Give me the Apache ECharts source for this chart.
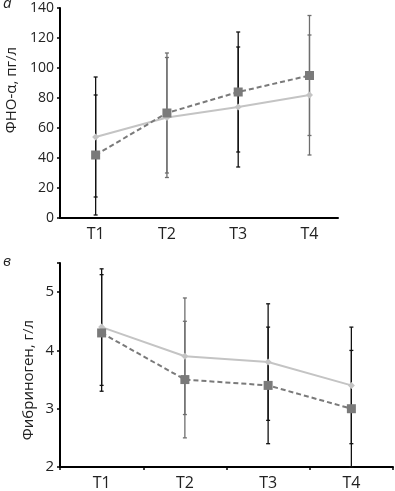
<!DOCTYPE html>
<html>
<head>
<meta charset="utf-8">
<script src="https://cdn.jsdelivr.net/npm/echarts@6/dist/echarts.min.js"></script>
<style>
  html, body { margin: 0; padding: 0; background: #fff; }
  #chart { width: 395px; height: 491px; }
</style>
</head>
<body>
<div id="chart"></div>
<script>
    var categories = ['T1', 'T2', 'T3', 'T4'];

    // ФНО-α, пг/л
    var tnfLight = [54, 67, 74, 82];
    var tnfLightSd = [40, 40, 40, 40];
    var tnfDark = [42, 70, 84, 95];
    var tnfDarkSd = [40, 40, 40, 40];
    var tnfTicks = [0, 20, 40, 60, 80, 100, 120, 140];

    // Фибриноген, г/л
    var fibLight = [4.4, 3.9, 3.8, 3.4];
    var fibLightSd = [1.0, 1.0, 1.0, 1.0];
    var fibDark = [4.3, 3.5, 3.4, 3.0];
    var fibDarkSd = [1.0, 1.0, 1.0, 1.0];
    var fibTicks = [2, 3, 4, 5];

    var BLACK = '#111';
    var GREY = '#6e6e6e';
    var tnfBarColors = [BLACK, GREY, BLACK, GREY];
    var fibBarColors = [BLACK, GREY, BLACK, BLACK];

    var FONT = '"Open Sans", "DejaVu Sans", sans-serif';

    function errData(means, sds, offset) {
        return means.map(function (m, i) {
            return [i + offset, m - sds[i], m + sds[i]];
        });
    }

    function errSeries(xi, means, sds, offset, colors) {
        return {
            type: 'custom',
            xAxisIndex: xi,
            yAxisIndex: xi,
            z: 1,
            silent: true,
            encode: { x: 0, y: [1, 2] },
            data: errData(means, sds, offset),
            renderItem: function (params, api) {
                var lo = api.coord([api.value(0), api.value(1)]);
                var hi = api.coord([api.value(0), api.value(2)]);
                var c = colors[params.dataIndex];
                var st = { stroke: c, lineWidth: 1.3 };
                return {
                    type: 'group',
                    children: [
                        { type: 'line', shape: { x1: hi[0], y1: hi[1], x2: lo[0], y2: lo[1] }, style: st },
                        { type: 'line', shape: { x1: hi[0] - 2, y1: hi[1], x2: hi[0] + 2, y2: hi[1] }, style: st },
                        { type: 'line', shape: { x1: lo[0] - 2, y1: lo[1], x2: lo[0] + 2, y2: lo[1] }, style: st }
                    ]
                };
            }
        };
    }

    function pts(means, offset) {
        return means.map(function (m, i) { return [i + offset, m]; });
    }

    var myChart = echarts.init(document.getElementById('chart'));

    var axisLine = { show: true, lineStyle: { color: '#000', width: 2 } };
    var yLabel = { color: '#222', fontSize: 14, fontFamily: FONT, margin: 6 };
    var xLabel = { color: '#222', fontSize: 16, fontFamily: FONT, margin: 8 };

    var option = {
        animation: false,
        backgroundColor: '#fff',
        grid: [
            { left: 60, top: 8, width: 278, height: 210 },
            { left: 60, top: 263, width: 333, height: 208 }
        ],
        xAxis: [{
                gridIndex: 0,
                type: 'value',
                min: 0.5,
                max: 4.4,
                interval: 0.5,
                splitLine: { show: false },
                axisLine: axisLine,
                axisTick: { show: false },
                axisLabel: Object.assign({}, xLabel, {
                    showMinLabel: false,
                    showMaxLabel: false,
                    formatter: function (v) {
                        return Number.isInteger(v) ? categories[v - 1] : '';
                    }
                })
            },
            {
                gridIndex: 1,
                type: 'category',
                data: categories,
                boundaryGap: true,
                axisLine: axisLine,
                axisTick: { show: true, length: 3, lineStyle: { color: '#000', width: 1.5 } },
                axisLabel: xLabel
            }
        ],
        yAxis: [{
                gridIndex: 0,
                type: 'value',
                min: tnfTicks[0],
                max: tnfTicks[tnfTicks.length - 1],
                interval: 20,
                splitLine: { show: false },
                axisLine: axisLine,
                axisTick: { show: true, length: 3, lineStyle: { color: '#000', width: 1.5 } },
                axisLabel: yLabel
            },
            {
                gridIndex: 1,
                type: 'value',
                min: fibTicks[0],
                max: 5.5,
                interval: 1,
                splitLine: { show: false },
                axisLine: axisLine,
                axisTick: { show: true, length: 3, lineStyle: { color: '#000', width: 1.5 } },
                axisLabel: Object.assign({}, yLabel, {
                    fontSize: 15,
                    formatter: function (v) { return v <= 5 ? String(v) : ''; }
                })
            }
        ],
        graphic: [
            { type: 'text', x: 12, y: 90, rotation: Math.PI / 2,
              style: { text: 'ФНО-α, пг/л', font: '15px ' + FONT, fill: '#222', align: 'center', verticalAlign: 'middle' } },
            { type: 'text', x: 29, y: 380, rotation: Math.PI / 2,
              style: { text: 'Фибриноген, г/л', font: '15px ' + FONT, fill: '#222', align: 'center', verticalAlign: 'middle' } },
            { type: 'text', x: 3, y: -4,
              style: { text: 'а', font: 'italic 15px ' + FONT, fill: '#222' } },
            { type: 'text', x: 3, y: 254,
              style: { text: 'в', font: 'italic 15px ' + FONT, fill: '#222' } }
        ],
        series: [
            errSeries(0, tnfLight, tnfLightSd, 1, tnfBarColors),
            errSeries(0, tnfDark, tnfDarkSd, 1, tnfBarColors),
            {
                type: 'line', xAxisIndex: 0, yAxisIndex: 0, z: 3,
                data: pts(tnfLight, 1),
                symbol: 'diamond', symbolSize: 7,
                lineStyle: { color: '#c4c4c4', width: 2 },
                itemStyle: { color: '#c4c4c4' }
            },
            {
                type: 'line', xAxisIndex: 0, yAxisIndex: 0, z: 4,
                data: pts(tnfDark, 1),
                symbol: 'rect', symbolSize: 9,
                lineStyle: { color: '#7a7a7a', width: 2, type: [5, 3] },
                itemStyle: { color: '#7a7a7a' }
            },
            errSeries(1, fibLight, fibLightSd, 0, fibBarColors),
            errSeries(1, fibDark, fibDarkSd, 0, fibBarColors),
            {
                type: 'line', xAxisIndex: 1, yAxisIndex: 1, z: 3,
                data: fibLight,
                symbol: 'diamond', symbolSize: 7,
                lineStyle: { color: '#c4c4c4', width: 2 },
                itemStyle: { color: '#c4c4c4' }
            },
            {
                type: 'line', xAxisIndex: 1, yAxisIndex: 1, z: 4,
                data: fibDark,
                symbol: 'rect', symbolSize: 9,
                lineStyle: { color: '#7a7a7a', width: 2, type: [5, 3] },
                itemStyle: { color: '#7a7a7a' }
            }
        ]
    };

    myChart.setOption(option);
</script>
</body>
</html>
